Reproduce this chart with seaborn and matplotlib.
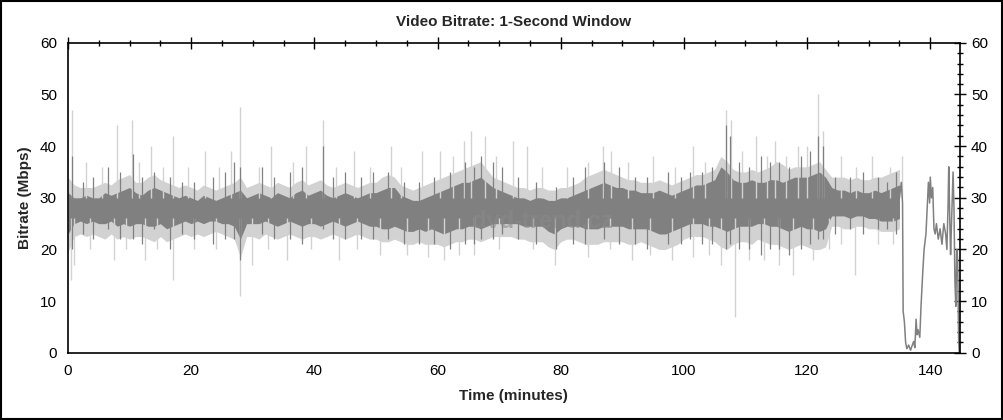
import numpy as np
import pandas as pd
import matplotlib
matplotlib.use("Agg")
import matplotlib.pyplot as plt
import matplotlib.ticker as mticker
from matplotlib.patches import Rectangle
import seaborn as sns

# per-minute envelope of the 1-second bitrate (minutes 0..135)
minutes = list(range(0, 136))

dark_hi = [31, 30, 30, 30.5, 30, 30, 31, 30.5, 31, 31.5,
           32, 31, 30.5, 31.5, 32, 31.5, 31, 30.5, 30, 30.5,
           30, 29.5, 30.5, 30, 29.5, 30, 30.5, 31, 31.5, 30,
           30.5, 31, 30.5, 30, 31, 30.5, 30, 31, 31.5, 30.5,
           31, 31.5, 30.5, 30, 30.5, 31, 30.5, 30, 30.5, 31,
           31, 31.5, 32, 32, 30.5, 30, 29.5, 29.5, 30, 30.5,
           31, 31.5, 32, 32.5, 33, 33, 33.5, 34, 33, 32,
           31.5, 31, 30.5, 30, 30, 29.5, 30, 30, 29.5, 29.5,
           30, 30, 30.5, 31, 31.5, 32, 32.5, 33, 32.5, 32,
           32, 31.5, 31.5, 31, 31, 31, 31.5, 31, 30.5, 31,
           31.5, 32, 32.5, 32.5, 33, 33.5, 36, 35, 33.5, 33,
           33, 33.5, 33, 33, 33.5, 33.5, 33, 33.5, 34, 34,
           34, 34.5, 35, 34, 32, 31.5, 31.5, 31, 31.5, 31,
           31, 31.5, 31, 31.5, 32, 32.5]
dark_lo = [23, 25, 25.5, 25, 25.5, 25, 25, 25.5, 24.5, 25,
           24.5, 25, 25, 24.5, 24.5, 25, 24, 24.5, 25, 25.5,
           25, 25.5, 25, 25.5, 25.5, 25, 25, 24.5, 22, 25,
           25, 25, 25.5, 25, 24.5, 25, 25.5, 25, 24.5, 25,
           25, 24.5, 25, 25.5, 25, 24.5, 25, 25.5, 25, 24.5,
           24.5, 24, 24, 24.5, 24, 23.5, 23.5, 24, 23.5, 24,
           23.5, 23, 23.5, 24, 24, 24.5, 24.5, 24, 24.5, 25,
           25, 25, 25, 25, 24.5, 24.5, 24.5, 24.5, 23.5, 23,
           24, 24.5, 24.5, 24.5, 24, 24, 24, 24.5, 24.5, 24.5,
           24.5, 24, 24, 24, 24, 23.5, 23, 23, 23.5, 24,
           24.5, 25, 25, 25, 24.5, 24.5, 24, 23.5, 24, 24.5,
           24.5, 24.5, 25, 25, 24.5, 24.5, 24, 23.5, 24, 24.5,
           24, 24, 23.5, 24, 26.5, 26.5, 26.5, 26, 26.5, 26.5,
           26, 26, 25.5, 25.5, 25.5, 26]
light_hi = [34, 32.5, 32, 32, 32, 32.5, 33, 32.5, 33.5, 34,
            34.5, 33, 33, 34, 34.5, 33.5, 33, 32.5, 32, 32.5,
            32, 31.5, 32.5, 32, 31.5, 32, 32.5, 33, 34, 32,
            32.5, 33, 32.5, 32, 33, 32.5, 32, 33, 33.5, 32.5,
            33, 33.5, 32.5, 32, 32.5, 33, 32.5, 32, 32.5, 33,
            33, 34, 34.5, 34, 32.5, 32, 31.5, 32, 32.5, 33,
            33.5, 34, 34.5, 35, 35.5, 36, 36.5, 37, 35.5, 34,
            33.5, 33, 32.5, 32, 32, 31.5, 32, 32, 31.5, 31.5,
            32, 32, 32.5, 33, 34, 34.5, 35, 35.5, 35, 34.5,
            34, 33.5, 33.5, 33, 33, 33, 33.5, 33, 32.5, 33,
            33.5, 34, 34.5, 34.5, 35, 35.5, 38, 37, 35.5, 35,
            35, 35.5, 35, 35.5, 36, 37, 36.5, 35.5, 36, 36,
            36, 36.5, 37, 35.5, 34, 34, 34, 33.5, 34, 33.5,
            33.5, 34, 34, 34.5, 35, 35.5]
light_lo = [19.5, 22.5, 23, 22.5, 23, 22.5, 22, 23, 22, 22.5,
            22, 22.5, 22.5, 22, 21.5, 22.5, 21.5, 22, 22.5, 23,
            22.5, 23, 22.5, 23, 23.5, 23, 22.5, 22, 18.5, 22.5,
            22.5, 22, 23, 22.5, 22, 22.5, 23, 22.5, 22, 22.5,
            22.5, 22, 22.5, 23, 22.5, 22, 22.5, 23, 22.5, 22,
            22, 21.5, 21.5, 22, 21.5, 21, 21, 21.5, 21, 21,
            21, 20.5, 21, 21.5, 21.5, 22, 22, 21.5, 22, 22.5,
            22.5, 22.5, 22.5, 22, 22, 21.5, 21.5, 21.5, 20.5, 20,
            21.5, 22, 22, 21.5, 21, 21, 21, 21.5, 21.5, 21.5,
            21.5, 21, 21, 21.5, 21, 20.5, 20, 20, 20.5, 21,
            22, 22.5, 22.5, 22.5, 22, 21.5, 20.5, 20, 21, 21.5,
            21.5, 21, 22, 21.5, 21, 21, 20.5, 20, 20.5, 21,
            20.5, 20, 20, 20.5, 24.5, 24.5, 24, 24, 24.5, 24.5,
            24, 24, 23.5, 23.5, 23.5, 24]

# isolated peaks and drops (minute, value)
light_peak_t = [0.6, 3.0, 5.5, 8.0, 10.4, 11.5, 13.5, 15.5, 17.0, 19.5, 22.2, 24.5,
                26.5, 28.0, 31.0, 33.0, 36.5, 38.6, 41.4, 43.5, 46.5, 49.0, 52.4, 54.0,
                57.5, 60.4, 62.5, 64.3, 65.5, 67.7, 69.5, 72.2, 74.5, 77.0, 81.0, 84.5,
                86.8, 88.2, 91.0, 95.0, 98.5, 101.5, 103.5, 106.8, 107.6, 109.5, 111.7,
                113.5, 114.8, 116.5, 118.6, 120.0, 121.8, 122.6, 125.5, 128.0, 130.5,
                133.5, 135.4]
light_peak_v = [47, 37, 36, 44, 45, 37, 40, 36, 42, 36, 39, 36,
                39, 47.5, 36, 40, 37, 40, 45, 36, 39, 36, 40, 36,
                39, 39, 38, 41, 43, 42, 38, 41, 40, 36, 36, 37,
                40, 39, 37, 38, 36, 40, 37, 47, 45, 39, 42,
                38, 41, 38, 40, 40, 50, 43, 38, 36, 38,
                36, 38]
light_drop_t = [0.5, 1.0, 3.5, 7.5, 9.5, 12.5, 14.5, 17.0, 20.5, 24.0, 28.0, 29.8,
                32.5, 35.5, 39.5, 44.0, 47.0, 50.6, 55.0, 58.5, 61.0, 63.5, 66.0, 70.0,
                75.5, 79.0, 84.4, 88.0, 91.5, 94.5, 98.0, 101.5, 104.0, 106.0, 108.3,
                110.5, 113.0, 115.5, 117.7, 121.0, 123.5, 125.5, 127.8, 131.5, 134.0]
light_drop_v = [14, 17, 20, 18, 20, 18, 20, 14, 20, 20, 11, 17,
                20, 18, 20, 18, 20, 19, 19, 18.5, 18, 19, 19, 20,
                20, 17, 18.5, 20, 18, 19, 18, 18.5, 19, 17, 7,
                18, 18, 17, 15, 18, 20, 21, 15, 21, 21]
dark_spike_t = [0.7, 2.5, 4.0, 6.5, 8.5, 10.6, 12.0, 14.0, 16.5, 18.5, 20.5, 23.5,
                25.5, 27.0, 28.0, 31.5, 33.5, 36.0, 38.0, 41.4, 43.0, 45.0, 47.5, 49.5,
                52.0, 54.5, 57.0, 59.5, 62.0, 64.5, 66.0, 67.0, 69.0, 70.5, 73.0, 76.0,
                79.2, 82.0, 84.0, 87.0, 89.5, 92.0, 94.0, 97.5, 99.5, 101.0, 103.0,
                104.5, 106.8, 107.5, 109.0, 110.5, 112.5, 114.0, 115.5, 117.0, 119.0,
                120.5, 121.8, 122.6, 124.5, 127.0, 129.0, 131.5, 133.0, 134.5]
dark_spike_lo = [20, 23, 22, 24, 22, 22, 21, 24, 20, 23, 22, 21,
                 22, 22, 18, 23, 22, 22, 21, 24, 22, 22, 22, 22,
                 22, 21, 21, 21, 20, 21, 21, 22, 22, 23, 22, 21,
                 20, 21, 21, 22, 21, 21, 20, 21, 21, 22, 21,
                 21, 20, 21, 20, 20, 19, 20, 20, 19, 20,
                 21, 22, 22, 23, 24, 23, 24, 24, 23]
dark_spike_hi = [38, 33, 34, 36, 35, 38.5, 34, 35, 34, 33, 33, 34,
                 35, 37, 36, 36, 34, 35, 36, 40, 34, 35, 34, 35,
                 35, 33, 33, 34, 35, 37, 36, 38, 37, 36, 34, 33,
                 32, 34, 36, 37, 36, 34, 34, 35, 34, 35, 35,
                 36, 44, 42, 37, 36, 38, 37, 37, 36, 38,
                 39, 42, 40, 34, 34, 35, 34, 33, 35]

# last minutes, where the trace collapses and recovers
tail_t = [135.0, 135.3, 135.5, 135.6, 135.8, 136.0, 136.2, 136.5, 136.8, 137.0, 137.3,
          137.5, 137.7, 137.85, 138.0, 138.3, 138.5, 138.8, 139.0, 139.3, 139.5, 139.7,
          139.9, 140.0, 140.2, 140.4, 140.6, 140.8, 141.0, 141.3, 141.6, 141.9, 142.2,
          142.5, 142.7, 142.9, 143.0, 143.2, 143.3, 143.5, 143.7, 143.85, 144.0, 144.15,
          144.3, 144.45, 144.6, 144.7]
tail_v = [30, 33, 29, 8, 6, 2, 0.8, 1.5, 0.5, 1.2, 2.2,
          1.0, 6.5, 3.5, 4.5, 3.0, 9, 16, 20, 23, 28, 33,
          29, 34, 30, 32, 24, 23, 25, 22, 24, 21, 25,
          23, 20, 29, 36, 24, 19, 27, 35, 28, 14, 9,
          20, 18, 3, 0]

DARK = "#808080"
LIGHT = "#d2d2d2"

sns.set_theme(style="white")
plt.rcParams["font.family"] = ["Liberation Sans", "DejaVu Sans"]

fig, ax = plt.subplots(figsize=(10.04, 4.2), dpi=100)
fig.subplots_adjust(left=0.0677, right=0.956, top=0.898, bottom=0.16)

ax.fill_between(minutes, light_lo, light_hi, color=LIGHT, lw=0)
ax.vlines(light_peak_t, 30, light_peak_v, color=LIGHT, lw=1.0)
ax.vlines(light_drop_t, light_drop_v, 26, color=LIGHT, lw=1.0)
ax.fill_between(minutes, dark_lo, dark_hi, color=DARK, lw=0)
ax.vlines(dark_spike_t, dark_spike_lo, dark_spike_hi, color=DARK, lw=0.9)

tail = pd.DataFrame({"t": tail_t, "v": tail_v})
sns.lineplot(data=tail, x="t", y="v", ax=ax, color=DARK, lw=1.1)

# watermark
ax.text(77, 25.5, "dvd-trend.cz", fontsize=17, fontweight="bold", color="#8a8a8a",
        alpha=0.6, ha="center", va="center", zorder=5)

ax.set_xlim(0, 144.8)
ax.set_ylim(0, 60)
ax.xaxis.set_major_locator(mticker.MultipleLocator(20))
ax.xaxis.set_minor_locator(mticker.MultipleLocator(5))
ax.yaxis.set_major_locator(mticker.MultipleLocator(10))
ax.yaxis.set_minor_locator(mticker.MultipleLocator(2))
ax.tick_params(which="both", direction="inout", top=True, right=True,
               labelright=True, colors="black", labelsize=11, width=1)
ax.tick_params(which="major", length=9)
ax.tick_params(which="minor", length=5)
for s in ax.spines.values():
    s.set_color("black")
    s.set_linewidth(1.2)

ax.set_title("Video Bitrate: 1-Second Window", fontsize=11, fontweight="bold", pad=12)
ax.set_xlabel("Time (minutes)", fontsize=11, fontweight="bold", labelpad=8)
ax.set_ylabel("Bitrate (Mbps)", fontsize=11, fontweight="bold", labelpad=6)

fig.patches.append(Rectangle((0.001, 0.002), 0.997, 0.996, transform=fig.transFigure,
                             fill=False, edgecolor="black", lw=1.5))

fig.savefig("out.png", dpi=100)
